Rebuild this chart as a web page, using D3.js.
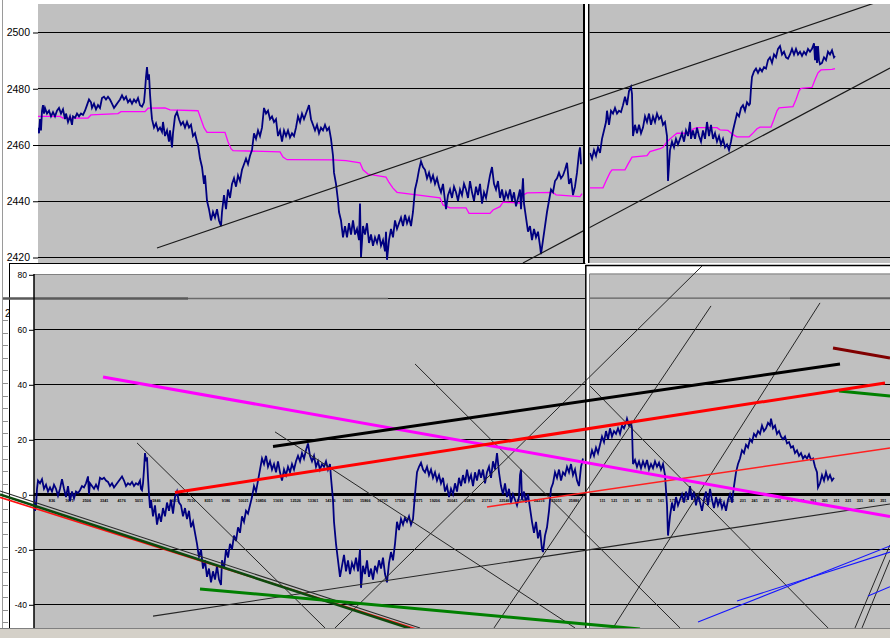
<!DOCTYPE html>
<html><head><meta charset="utf-8">
<script src="https://cdn.jsdelivr.net/npm/d3@7"></script>
<style>html,body{margin:0;padding:0;background:#fff;overflow:hidden}svg{display:block}text{font-family:"Liberation Sans",Arial,sans-serif}</style>
</head><body>
<svg id="c" width="890" height="638"></svg>
<script>
// ---------------- DATA ----------------
const priceTicks = [2420, 2440, 2460, 2480, 2500];
const oscTicks = [-40, -20, 0, 20, 40, 60, 80];
const oscTickLabelsLeft = ['836','1671','2506','3341','4176','5011','5846','6681','7516','8351','9186','10021','10856','11691','12526','13361','14196','15031','15866','16701','17536','18371','19206','20041','20876','21711','22546','23381','24216','25051','25886','26721'];
const oscTickValuesLeft = [836,1671,2506,3341,4176,5011,5846,6681,7516,8351,9186,10021,10856,11691,12526,13361,14196,15031,15866,16701,17536,18371,19206,20041,20876,21711,22546,23381,24216,25051,25886,26721];
const oscTickLabelsRight = ['111','121','131','141','151','161','171','181','191','201','211','221','231','241','251','261','271','281','291','301','311','321','331','341','351'];

// price (top), [bar, value]
const priceLeft = [[0,2466],[1,2464],[2,2469],[3,2465],[4,2472],[5,2474],[6,2471],[7,2473],[9,2471],[11,2472],[13,2470],[15,2471.5],[17,2470],[19,2472],[21,2473],[23,2471],[25,2472.5],[27,2469],[28,2471],[30,2468],[32,2470],[34,2467],[35,2470],[37,2469.5],[39,2471],[41,2470],[43,2471],[45,2470.5],[47,2472],[49,2474],[51,2476],[53,2475],[54,2473],[56,2474.5],[58,2472.5],[60,2474],[62,2473],[64,2476.5],[66,2477],[68,2476],[70,2477],[72,2476],[74,2474.5],[76,2473],[78,2474],[80,2475],[82,2476],[84,2477.5],[86,2476],[88,2477],[90,2475],[92,2476],[94,2474.5],[96,2476],[98,2475],[100,2476.5],[102,2474],[104,2473.5],[106,2475],[107,2479],[108,2484],[109,2487.5],[110,2483],[111,2485],[112,2478],[113,2473],[114,2469],[116,2466],[118,2467.5],[120,2465],[122,2466],[124,2464.5],[125,2468],[127,2463],[129,2465],[131,2461],[132,2465],[134,2459],[135,2464],[137,2470],[139,2471.5],[141,2469],[143,2467],[145,2468],[147,2466],[149,2468],[151,2466],[153,2467],[155,2463],[157,2464],[159,2461],[160,2460],[162,2455],[164,2452],[166,2446],[167,2449],[169,2440],[171,2437],[173,2433],[175,2436],[177,2434],[179,2437],[181,2433],[183,2431],[184,2436],[186,2442],[188,2437],[190,2444],[192,2441],[194,2446],[196,2448],[198,2445],[200,2449],[202,2447],[204,2451],[206,2453],[208,2455],[210,2453],[212,2456],[214,2458],[216,2464],[218,2462],[220,2465],[222,2463],[224,2466],[226,2473],[228,2471],[230,2472],[232,2469],[234,2470],[236,2468],[238,2469],[240,2463],[242,2465],[244,2461],[246,2465],[248,2463],[250,2465],[252,2462.5],[254,2464],[256,2463],[258,2466],[260,2470],[262,2468],[264,2471],[266,2469],[268,2471],[270,2473],[271,2474],[273,2469],[275,2467],[277,2465],[279,2467],[281,2464],[283,2466],[285,2465],[287,2467],[289,2465],[291,2466],[293,2462],[295,2456],[296,2450],[298,2446],[300,2440],[301,2436],[303,2433],[305,2427],[307,2431],[309,2427],[311,2432],[313,2428],[315,2433],[317,2428],[319,2430],[321,2426],[322,2439],[323,2420],[325,2431],[327,2428],[329,2432],[331,2425],[333,2428],[335,2424],[337,2427],[339,2425],[341,2428],[343,2424],[345,2426],[347,2422],[348,2429],[349,2419],[351,2426],[353,2430],[355,2427],[357,2433],[359,2430],[361,2432],[363,2434],[365,2431],[367,2435],[369,2432],[371,2434],[373,2431],[375,2436],[377,2444],[379,2447],[381,2451],[383,2454],[385,2452],[387,2451],[389,2448],[391,2450],[393,2447],[395,2449],[397,2446],[399,2448],[401,2445],[403,2443],[405,2446],[407,2440],[408,2437],[410,2442],[412,2444],[414,2441],[416,2445],[418,2443],[420,2440],[422,2444],[424,2442],[426,2446],[428,2444],[430,2441],[432,2447],[434,2443],[436,2440],[438,2445],[440,2442],[442,2446],[444,2439],[446,2443],[448,2441],[450,2445],[452,2449],[454,2452],[456,2446],[458,2444],[460,2447],[462,2441],[464,2444],[466,2440],[468,2443],[470,2441],[472,2444],[474,2440],[476,2443],[478,2438],[480,2441],[482,2444],[483,2437],[485,2448],[486,2439],[488,2434],[490,2429],[492,2431],[494,2426],[496,2430],[498,2427],[500,2429],[502,2424],[503,2421],[505,2426],[507,2431],[509,2436],[511,2440],[513,2444],[515,2443],[517,2447],[519,2448],[521,2450],[523,2448],[525,2449],[527,2451],[529,2453.5],[531,2446],[533,2448],[535,2442],[537,2445],[539,2450],[541,2457],[542,2459],[543,2453]];
const priceRight = [[552,2457],[554,2455],[556,2458],[558,2456],[560,2459],[562,2457],[564,2462],[566,2465],[568,2468],[569,2472],[571,2467],[573,2472],[575,2471],[577,2473],[579,2471],[581,2472],[583,2471.5],[585,2474],[587,2477],[589,2474],[591,2479],[593,2480.5],[594,2478],[595,2463],[597,2467],[599,2464],[601,2467],[603,2464],[605,2466],[607,2470],[609,2468],[611,2471],[613,2467],[615,2470],[617,2468],[619,2471],[621,2469],[623,2470],[625,2467],[627,2468],[629,2463],[630,2447],[632,2458],[634,2461],[636,2459],[638,2462],[640,2460],[642,2462],[644,2464],[646,2461],[648,2465],[650,2463],[652,2468],[653,2462],[655,2465],[657,2462],[659,2466],[661,2463],[663,2461],[665,2465],[667,2462],[669,2468],[671,2463],[673,2467],[675,2462],[677,2464],[679,2461],[681,2463],[683,2460],[685,2462],[687,2459],[689,2460],[691,2458],[693,2461],[695,2465],[697,2468],[699,2471],[701,2470],[703,2473],[705,2474],[707,2472],[709,2475],[711,2474],[712,2474.5],[713,2480],[714,2484],[716,2486],[718,2487],[720,2485.5],[722,2487],[724,2486],[726,2487.5],[728,2487],[730,2490],[732,2491],[734,2489],[736,2492],[738,2491],[740,2494],[742,2495],[744,2492],[746,2493],[748,2491],[750,2490.5],[752,2492],[754,2494],[756,2492],[758,2494],[760,2492],[762,2493],[764,2491.5],[766,2493],[768,2492],[770,2494],[772,2493],[774,2494],[776,2496],[777,2490],[778,2495],[779,2489],[780,2495],[781,2490],[782,2488.5],[784,2489],[786,2491],[788,2490],[790,2493],[792,2492],[794,2493.5],[796,2491],[797,2491.5]];
const avgLeft = [[0,2470],[22,2470],[25,2469.4],[50,2469.4],[53,2470.5],[80,2471],[83,2471.7],[107,2471.7],[110,2472.9],[127,2473],[132,2472.3],[160,2472],[163,2469],[166,2466],[169,2464.3],[187,2464.3],[190,2461],[193,2458.5],[195,2457.8],[242,2457.4],[245,2455.5],[249,2454.6],[295,2454.5],[308,2454.3],[322,2453.5],[325,2451],[330,2449.5],[348,2448.4],[351,2446.5],[355,2444.5],[359,2443],[402,2441],[405,2438.5],[412,2437.5],[428,2437.5],[431,2435.5],[452,2435.5],[455,2436.7],[462,2437.9],[465,2439.5],[482,2439.2],[485,2442],[489,2442.8],[515,2443],[518,2442.1],[542,2441.5],[544,2442.5]];
const avgRight = [[552,2444.6],[565,2444.6],[568,2447],[572,2450],[574,2451],[587,2451],[590,2453],[594,2455.5],[609,2456],[612,2457.5],[622,2458.5],[625,2459],[628,2460.5],[632,2462],[637,2463.5],[639,2464],[652,2464],[655,2465.5],[659,2466],[679,2466],[682,2465.2],[690,2465],[695,2463.5],[699,2462.7],[711,2462.7],[714,2463.7],[719,2465.6],[722,2466.2],[733,2466.2],[736,2469],[739,2472],[741,2473],[755,2473.5],[758,2476],[761,2479],[763,2480],[774,2480.3],[777,2483],[780,2485.5],[783,2486.5],[794,2486.7],[797,2487]];

// oscillator (bottom), [bar, value]
const oscLeft = [[0,-2],[1,-6],[2,-4],[3,2],[4,5],[6,4],[8,5.5],[10,2],[12,3.5],[14,1],[16,2.5],[18,1],[20,3.5],[22,2],[24,-0.5],[26,2],[28,5.5],[30,2],[32,-1],[34,3],[36,-2.5],[38,1],[40,-1.5],[42,1],[44,0.5],[46,1.5],[48,3],[50,2.5],[52,4],[54,6.5],[55,0],[56,4],[58,3],[60,2],[62,3.5],[64,2],[66,6],[68,5.5],[70,6],[72,5],[74,4.5],[76,3],[78,4],[80,2.5],[82,3.5],[84,4.5],[86,5.5],[88,6.5],[90,5],[92,3],[94,4],[96,3.5],[98,4.5],[100,3],[102,4],[104,3.5],[106,5],[107,2],[108,1.5],[109,4],[110,9],[111,15],[112,12],[113,13.5],[114,6],[115,0],[116,-5],[117,-2],[119,-8],[121,-4],[123,-11],[125,-7],[127,-10],[129,-5],[131,-8],[133,-3],[135,-6],[137,-2],[139,-7],[141,-1],[143,1],[145,-3],[147,-4],[149,-8],[151,-5],[153,-9],[155,-6],[157,-12],[159,-10],[161,-14],[163,-18],[165,-23],[167,-20],[169,-27],[171,-24],[173,-30],[175,-27],[177,-32],[179,-28],[181,-31],[183,-26],[185,-31],[187,-33],[188,-24],[190,-27],[192,-20],[194,-23],[196,-18],[198,-20],[200,-15],[202,-17],[204,-12],[206,-14],[208,-8],[210,-10],[212,-6],[214,-7],[216,-4],[218,-1],[220,3],[222,1],[224,5],[226,9],[228,13],[230,11],[232,14],[234,10],[236,12],[238,9],[240,11],[242,8],[244,12],[246,8],[248,5],[250,9],[252,7],[254,10],[256,8],[258,11],[260,9],[262,12],[264,14],[266,12],[268,15],[270,13],[272,16],[274,18.5],[276,14],[278,12],[280,14],[282,10],[284,12],[286,9],[288,11],[290,10],[292,12],[294,9],[296,11],[297,6],[299,-2],[300,-10],[302,-18],[304,-24],[306,-30],[308,-26],[310,-22],[312,-28],[314,-24],[316,-29],[318,-25],[320,-27],[322,-23],[324,-28],[326,-20],[327,-34],[329,-26],[331,-29],[333,-24],[335,-30],[337,-27],[339,-31],[341,-26],[343,-28],[345,-24],[347,-27],[349,-23],[351,-29],[353,-32],[355,-25],[357,-21],[359,-24],[361,-18],[363,-10],[365,-13],[367,-9],[369,-11],[371,-8.5],[373,-10],[375,-8],[377,-11],[379,-9],[381,0],[383,8],[385,10],[387,11.5],[389,9],[391,8],[393,10],[395,7],[397,9],[399,6],[401,8],[403,5],[405,7],[407,4],[409,6],[411,1],[413,3],[415,-1],[417,2],[419,0],[421,4],[423,1],[425,6],[427,3],[429,7],[431,4],[433,9],[435,5],[437,7],[439,3],[441,8],[443,5],[445,9],[447,6],[449,9],[451,4],[453,8],[455,10],[457,6],[459,12],[461,9],[463,15],[465,8],[467,3],[469,0],[471,4],[473,-1],[475,2],[477,-3],[479,0],[481,-2],[483,-4],[485,-1],[486,7],[487,9],[488,-2],[490,1],[492,-3],[494,0],[496,-5],[498,-10],[500,-14],[502,-10],[504,-16],[506,-13],[508,-20],[509,-21],[511,-15],[513,-12],[515,-6],[517,2],[519,4],[521,8],[523,6],[525,9],[527,5],[529,8],[531,7],[533,10],[535,8],[537,11],[539,7],[541,9],[543,5],[545,3],[547,10],[549,13]];
const oscRight = [[556,13],[558,16],[560,14],[562,17],[564,15],[566,18],[568,21],[570,19],[572,23],[574,20],[576,24],[578,21],[580,23],[582,22],[584,24],[586,22],[588,25],[590,24],[592,26],[593,27.5],[595,25],[597,26],[598,24],[599,11],[601,12.5],[603,10],[605,12],[607,9.5],[609,12],[611,10],[613,12.5],[615,9],[617,11],[619,9.5],[621,12],[623,10],[625,11.5],[627,9],[629,11],[631,7],[633,-4],[634,-15],[636,-8],[638,-3],[640,-6],[642,-1],[644,-4],[646,-2],[648,0],[650,-3],[652,1],[654,-2],[656,3],[658,-2],[660,1],[662,-4],[664,0],[666,-3],[668,-6],[670,-2],[672,1],[674,-4],[676,2],[678,-2],[680,-5],[682,-1],[684,-4],[686,-2],[688,-5],[690,-3],[692,-6],[694,-2],[696,0],[698,-3],[700,3],[702,8],[704,11],[706,13],[708,16],[710,15],[712,18],[714,17],[716,20],[718,19],[720,22],[722,21],[724,23],[726,22],[728,25],[730,23],[732,24],[734,26],[736,25],[737,27.5],[739,24],[741,25],[743,22],[745,23],[747,21],[749,20],[751,21],[753,18.5],[755,19],[757,17],[759,17.5],[761,15],[763,16],[765,14],[767,15],[769,13],[771,14],[773,13],[775,14.5],[777,12.5],[779,13],[781,10],[783,8],[784,2.5],[786,4],[788,7],[790,5],[792,8],[794,5.5],[796,7],[798,5],[800,6]];

// trend lines (top): [bar, price]
const topChannelUpper = [[119,2423.2],[852,2512.2]];
const topChannelLower = [[485,2417.9],[852,2487.2]];
// trend lines (bottom): [bar, osc]
const lnMagenta = [[69,42.65],[856,-8.1]];
const lnRed = [[141,0.65],[851,40.5]];
const lnBlack = [[239,17.4],[806,47.4]];
const lnMaroon = [[799,53.2],[856,49.6]];
const lnGreenRight = [[805,37.6],[856,35.7]];
const lnGreenLow = [[166,-34.4],[606,-49.0]];
const lnRedThin = [[453,-4.6],[856,16.8]];
const lnTripleBlack = [[-34,1.2],[386,-48.6]];
const lnTripleGreen = [[-34,-0.07],[376,-48.8]];
const lnTripleRed = [[-34,-1.1],[384,-49.2]];
const lnThinA = [[103,18.7],[291,-48.6]];
const lnThinB = [[241,22.7],[541,-48.6]];
const lnThinC = [[381,47.4],[646,-48.6]];
const lnThinD1 = [[301,-48.6],[668,83.0]];
const lnThinD2 = [[460,-48.6],[677,68.5]];
const lnThinD3 = [[579,-48.6],[786,69.6]];
const lnThinE = [[556,39.4],[794,-48.6]];
const lnThinF1 = [[821,-48.6],[856,-18.4]];
const lnThinF2 = [[828,-48.6],[856,-23.8]];
const lnThinG = [[119,-44.3],[856,-3.5]];
const lnBlue1 = [[664,-46.4],[856,-18.8]];
const lnBlue2 = [[703,-38.8],[856,-21]];
const lnBlue3 = [[834,-37],[856,-33.6]];

// ---------------- DRAW ----------------
const svg = d3.select('#c');
const defs = svg.append('defs');
function clip(id,x,y,w,h){defs.append('clipPath').attr('id',id).append('rect').attr('x',x).attr('y',y).attr('width',w).attr('height',h);}
clip('cTL',38,4,545,259);
clip('cTR',589.5,4,300.5,259);
clip('cBL',34,274,551,354);
clip('cBR',590,274,300,354);
clip('cBA',0,264,890,364);

const xTop = d3.scaleLinear().domain([0,852]).range([38,890]);
const yTop = d3.scaleLinear().domain([2420,2500]).range([257,32]);
const xBot = d3.scaleLinear().domain([0,856]).range([34,890]);
const yBot = d3.scaleLinear().domain([-40,80]).range([604.3,274.3]);
const xTickL = d3.scaleLinear().domain([0,26720]).range([34.6,591.4]);
const xTickR = d3.scaleLinear().domain([0,24]).range([602.5,883.3]);

const topLine = d3.line().x(d=>xTop(d[0])).y(d=>yTop(d[1]));
const botLine = d3.line().x(d=>xBot(d[0])).y(d=>yBot(d[1]));

// background
svg.append('rect').attr('width',890).attr('height',638).attr('fill','#fff');
svg.append('line').attr('x1',2.5).attr('x2',2.5).attr('y1',0).attr('y2',628).attr('stroke','#9a9a9a');

// ---- top panels
svg.append('rect').attr('x',38).attr('y',4).attr('width',545).attr('height',259).attr('fill','#c0c0c0');
svg.append('rect').attr('x',589.5).attr('y',4).attr('width',300.5).attr('height',259).attr('fill','#c0c0c0');
const gTop = svg.append('g');
priceTicks.forEach(v=>{
  gTop.append('line').attr('x1',38).attr('x2',583).attr('y1',Math.round(yTop(v))+0.5).attr('y2',Math.round(yTop(v))+0.5).attr('stroke','#000');
  gTop.append('line').attr('x1',589.5).attr('x2',890).attr('y1',Math.round(yTop(v))+0.5).attr('y2',Math.round(yTop(v))+0.5).attr('stroke','#000');
});
const axT = d3.axisLeft(yTop).tickValues(priceTicks).tickSize(5).tickPadding(3).tickFormat(d=>String(d));
const gAxT = svg.append('g').attr('transform','translate(38,0.5)').call(axT);
gAxT.select('.domain').remove();
gAxT.selectAll('text').attr('font-size','10.5px').attr('fill','#000').attr('font-family','"Liberation Sans",Arial,sans-serif');
gAxT.selectAll('line').attr('stroke','#000');

// top series
const gTL = svg.append('g').attr('clip-path','url(#cTL)');
gTL.append('path').attr('d',topLine(avgLeft)).attr('fill','none').attr('stroke','#ff00ff').attr('stroke-width',1.3);
gTL.append('path').attr('d',topLine(priceLeft)).attr('fill','none').attr('stroke','#000080').attr('stroke-width',1.8);
gTL.append('path').attr('d',topLine(topChannelUpper)).attr('fill','none').attr('stroke','#1a1a1a').attr('stroke-width',1.2);
gTL.append('path').attr('d',topLine(topChannelLower)).attr('fill','none').attr('stroke','#1a1a1a').attr('stroke-width',1.2);
const gTR = svg.append('g').attr('clip-path','url(#cTR)');
gTR.append('path').attr('d',topLine(avgRight)).attr('fill','none').attr('stroke','#ff00ff').attr('stroke-width',1.3);
gTR.append('path').attr('d',topLine(priceRight)).attr('fill','none').attr('stroke','#000080').attr('stroke-width',1.8);
gTR.append('path').attr('d',topLine(topChannelUpper)).attr('fill','none').attr('stroke','#1a1a1a').attr('stroke-width',1.2);
gTR.append('path').attr('d',topLine(topChannelLower)).attr('fill','none').attr('stroke','#1a1a1a').attr('stroke-width',1.2);

// divider top
svg.append('rect').attr('x',583).attr('y',4).attr('width',2).attr('height',259).attr('fill','#000');
svg.append('rect').attr('x',585).attr('y',4).attr('width',3).attr('height',259).attr('fill','#fff');
svg.append('rect').attr('x',588).attr('y',4).attr('width',1.5).attr('height',259).attr('fill','#000');

// left strip ruler (window behind)
d3.range(320,628,12.6).forEach(y=>{
  svg.append('line').attr('x1',3).attr('x2',8).attr('y1',Math.round(y)+0.5).attr('y2',Math.round(y)+0.5).attr('stroke','#909090');
});
svg.append('text').attr('x',5).attr('y',317).attr('font-size','10px').text('2');

// ---- bottom left window
svg.append('rect').attr('x',9).attr('y',263.5).attr('width',576.5).attr('height',364.5).attr('fill','#fff');
svg.append('line').attr('x1',9).attr('x2',585.5).attr('y1',263.5).attr('y2',263.5).attr('stroke','#000');
svg.append('line').attr('x1',9.5).attr('x2',9.5).attr('y1',263.5).attr('y2',628).attr('stroke','#000');
svg.append('rect').attr('x',34).attr('y',274).attr('width',551).attr('height',354).attr('fill','#c0c0c0');
svg.append('line').attr('x1',34).attr('x2',585).attr('y1',274.5).attr('y2',274.5).attr('stroke','#808080');

// ---- bottom right window
svg.append('rect').attr('x',585.5).attr('y',263.5).attr('width',304.5).attr('height',364.5).attr('fill','#fff');
svg.append('line').attr('x1',585.5).attr('x2',890).attr('y1',265.5).attr('y2',265.5).attr('stroke','#000').attr('stroke-width',1.3);
svg.append('line').attr('x1',585.8).attr('x2',585.8).attr('y1',265).attr('y2',628).attr('stroke','#000').attr('stroke-width',1.5);
svg.append('rect').attr('x',589.5).attr('y',273.5).attr('width',300.5).attr('height',354.5).attr('fill','#c0c0c0');
svg.append('line').attr('x1',589.5).attr('x2',890).attr('y1',274).attr('y2',274).attr('stroke','#808080');
svg.append('line').attr('x1',589.5).attr('x2',589.5).attr('y1',274).attr('y2',628).attr('stroke','#808080');

// chrome line behind
svg.append('line').attr('x1',3).attr('x2',188).attr('y1',298.5).attr('y2',298.5).attr('stroke','#5a5a5a').attr('stroke-width',2.5);
svg.append('line').attr('x1',188).attr('x2',388).attr('y1',298.5).attr('y2',298.5).attr('stroke','#6a6a6a').attr('stroke-width',1.5);
svg.append('line').attr('x1',388).attr('x2',585).attr('y1',298.5).attr('y2',298.5).attr('stroke','#111').attr('stroke-width',1);
svg.append('line').attr('x1',590).attr('x2',790).attr('y1',298.2).attr('y2',298.2).attr('stroke','#606060').attr('stroke-width',1.2);
svg.append('line').attr('x1',790).attr('x2',890).attr('y1',298.2).attr('y2',298.2).attr('stroke','#606060').attr('stroke-width',2);

// bottom gridlines
oscTicks.filter(v=>v!==80).forEach(v=>{
  const y = Math.round(yBot(v))+0.5;
  const w = v===0 ? 3 : 1;
  svg.append('line').attr('x1',34).attr('x2',585).attr('y1',y).attr('y2',y).attr('stroke','#000').attr('stroke-width',w);
  svg.append('line').attr('x1',590).attr('x2',890).attr('y1',y).attr('y2',y).attr('stroke','#000').attr('stroke-width',w);
});
const axB = d3.axisLeft(yBot).tickValues(oscTicks).tickSize(5).tickPadding(2).tickFormat(d=>String(d));
const gAxB = svg.append('g').attr('transform','translate(34,0.5)').call(axB);
gAxB.select('.domain').remove();
gAxB.selectAll('text').attr('font-size','8.5px').attr('fill','#000').attr('font-family','"Liberation Sans",Arial,sans-serif');
gAxB.selectAll('line').attr('stroke','#000');
svg.append('line').attr('x1',34).attr('x2',34).attr('y1',274).attr('y2',628).attr('stroke','#000').attr('stroke-width',1.5);

// x tick labels under zero line
const gLL = svg.append('g').attr('clip-path','url(#cBL)');
oscTickLabelsLeft.forEach((s,i)=>{
  gLL.append('text').attr('x',xTickL(oscTickValuesLeft[i])).attr('y',yBot(0)+8).attr('text-anchor','middle')
    .attr('font-size','3.8px').attr('font-weight','bold').attr('fill','#000').text(s);
});
const gLR = svg.append('g').attr('clip-path','url(#cBR)');
oscTickLabelsRight.forEach((s,i)=>{
  gLR.append('text').attr('x',xTickR(i)).attr('y',yBot(0)+8).attr('text-anchor','middle')
    .attr('font-size','3.8px').attr('font-weight','bold').attr('fill','#000').text(s);
});

// oscillator series
svg.append('g').attr('clip-path','url(#cBL)').append('path').attr('d',botLine(oscLeft)).attr('fill','none').attr('stroke','#000080').attr('stroke-width',1.8);
svg.append('g').attr('clip-path','url(#cBR)').append('path').attr('d',botLine(oscRight)).attr('fill','none').attr('stroke','#000080').attr('stroke-width',1.8);

// trend lines bottom
const lineStyles = [
  [lnThinA,'#262626',1],[lnThinB,'#262626',1],[lnThinC,'#262626',1],[lnThinD1,'#262626',1],[lnThinD2,'#262626',1],
  [lnThinD3,'#262626',1],[lnThinE,'#262626',1],[lnThinF1,'#262626',1],[lnThinF2,'#262626',1],[lnThinG,'#262626',1.1],
  [lnBlue1,'#1515ff',1.1],[lnBlue2,'#1515ff',1.1],[lnBlue3,'#1515ff',1.1],
  [lnTripleBlack,'#2a2a2a',1.1],[lnTripleRed,'#ff1010',1.6],[lnTripleGreen,'#0d4a0d',2.6],
  [lnGreenLow,'#008000',3],[lnGreenRight,'#008000',3],[lnMaroon,'#800000',3],
  [lnRedThin,'#ff2020',1.5],[lnMagenta,'#ff00ff',3],[lnRed,'#ff0000',3],[lnBlack,'#000',3]
];
const gBA = svg.append('g').attr('clip-path','url(#cBA)');
lineStyles.forEach(([pts,c,w])=>{
  gBA.append('path').attr('d',botLine(pts)).attr('fill','none').attr('stroke',c).attr('stroke-width',w);
});

// bottom chrome strip
svg.append('rect').attr('x',0).attr('y',628).attr('width',890).attr('height',10).attr('fill','#d4d0c8');
svg.append('line').attr('x1',0).attr('x2',890).attr('y1',628.5).attr('y2',628.5).attr('stroke','#808080');
</script>
</body></html>
